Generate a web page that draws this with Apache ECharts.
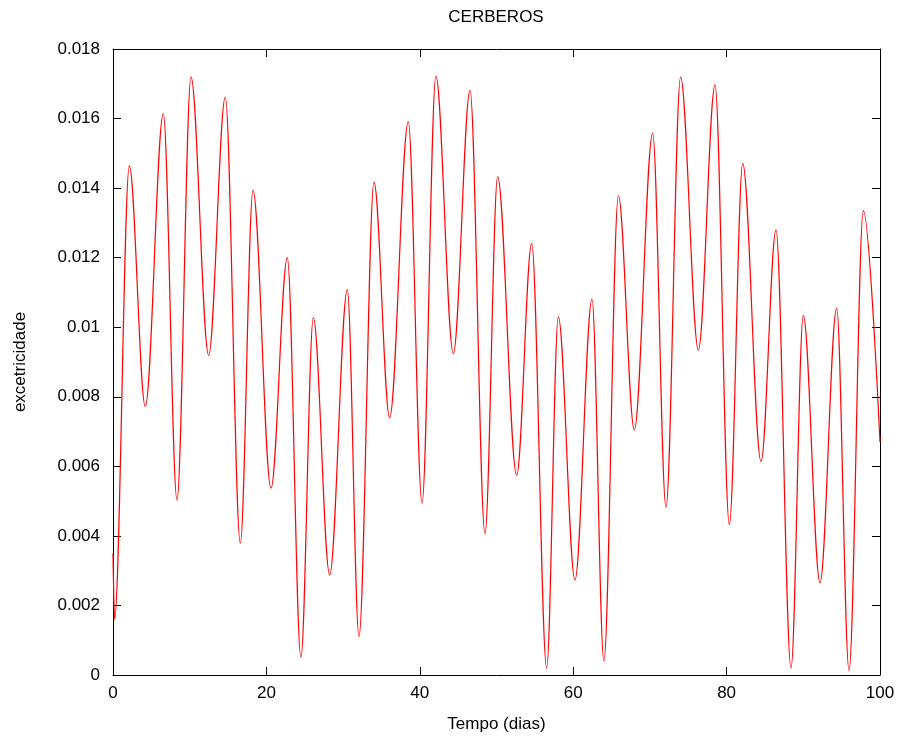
<!DOCTYPE html>
<html>
<head>
<meta charset="utf-8">
<title>CERBEROS</title>
<script src="https://cdn.jsdelivr.net/npm/echarts@6/dist/echarts.min.js"></script>
<style>
  html, body { margin: 0; padding: 0; background: #fff; }
  #chart { width: 899px; height: 744px; }
</style>
</head>
<body>
<div id="chart"></div>
<script>
// tempo (dias) at the turning points of the curve
const tempo = [0, 0.2, 2.13, 4.21, 6.56, 8.34, 10.17, 12.47, 14.64, 16.6, 18.25, 20.6, 22.73,
  24.5, 26.12, 28.25, 30.55, 32.07, 34.03, 36.07, 38.5, 40.29, 42.1, 44.37, 46.55, 48.5,
  50.15, 52.63, 54.59, 56.54, 58.06, 60.23, 62.45, 64.0, 65.89, 67.97, 70.36, 72.1, 74.0,
  76.32, 78.49, 80.36, 82.1, 84.49, 86.44, 88.4, 90.0, 92.18, 94.35, 95.96, 97.83, 100];

// excentricidade at the same instants
const excentricidade = [0.0035, 0.0016, 0.01464, 0.00772, 0.01614, 0.00503, 0.0172, 0.00919,
  0.01662, 0.00379, 0.01394, 0.00537, 0.0120, 0.0005, 0.01028, 0.00288, 0.01108, 0.0011,
  0.01417, 0.0074, 0.01591, 0.00494, 0.01722, 0.00924, 0.01681, 0.00406, 0.01433, 0.00574,
  0.01241, 0.0002, 0.0103, 0.00273, 0.01081, 0.0004, 0.01378, 0.00705, 0.01558, 0.00482,
  0.01719, 0.00934, 0.01697, 0.00432, 0.01471, 0.00614, 0.0128, 0.0002, 0.01034, 0.00265,
  0.01055, 0.00013, 0.01335, 0.0067];

const xTicks = [0, 20, 40, 60, 80, 100];
const yTicks = [0, 0.002, 0.004, 0.006, 0.008, 0.01, 0.012, 0.014, 0.016, 0.018];

const font = "'Liberation Sans', Arial, Helvetica, sans-serif";

const chart = echarts.init(document.getElementById('chart'));

// gnuplot style: closed black frame, ticks pointing inwards on all four sides
const frameLine = {show: true, onZero: false, lineStyle: {color: '#000', width: 1}};
const tick = {show: true, inside: true, length: 8, lineStyle: {color: '#000', width: 1}};

chart.setOption({
  animation: false,
  backgroundColor: '#fff',
  title: {
    text: 'CERBEROS',
    left: 496,
    top: 9,
    padding: 0,
    textAlign: 'center',
    textStyle: {fontFamily: font, fontSize: 17, fontWeight: 'normal', color: '#000'}
  },
  grid: {left: 113, right: 19, top: 49, bottom: 69},
  xAxis: [{
    type: 'value',
    position: 'bottom',
    min: xTicks[0],
    max: xTicks[xTicks.length - 1],
    interval: 20,
    name: 'Tempo (dias)',
    nameLocation: 'middle',
    nameGap: 41,
    nameTextStyle: {fontFamily: font, fontSize: 17, color: '#000'},
    axisLine: frameLine,
    axisTick: tick,
    axisLabel: {fontFamily: font, fontSize: 17, color: '#000', margin: 10},
    splitLine: {show: false}
  }, {
    type: 'value',
    position: 'top',
    min: xTicks[0],
    max: xTicks[xTicks.length - 1],
    interval: 20,
    axisLine: frameLine,
    axisTick: tick,
    axisLabel: {show: false},
    splitLine: {show: false}
  }],
  yAxis: [{
    type: 'value',
    position: 'left',
    min: yTicks[0],
    max: yTicks[yTicks.length - 1],
    interval: 0.002,
    name: 'excetricidade',
    nameLocation: 'middle',
    nameGap: 84,
    nameTextStyle: {fontFamily: font, fontSize: 17, color: '#000'},
    axisLine: frameLine,
    axisTick: tick,
    axisLabel: {
      fontFamily: font, fontSize: 17, color: '#000', margin: 13,
      formatter: v => String(+v.toFixed(3))
    },
    splitLine: {show: false}
  }, {
    type: 'value',
    position: 'right',
    min: yTicks[0],
    max: yTicks[yTicks.length - 1],
    interval: 0.002,
    axisLine: frameLine,
    axisTick: tick,
    axisLabel: {show: false},
    splitLine: {show: false}
  }],
  series: [{
    type: 'line',
    xAxisIndex: 0,
    yAxisIndex: 0,
    data: tempo.map((t, i) => [t, excentricidade[i]]),
    showSymbol: false,
    smooth: 0.35,
    smoothMonotone: 'x',
    lineStyle: {color: '#ff0000', width: 1.2},
    itemStyle: {color: '#ff0000'}
  }]
});
</script>
</body>
</html>
